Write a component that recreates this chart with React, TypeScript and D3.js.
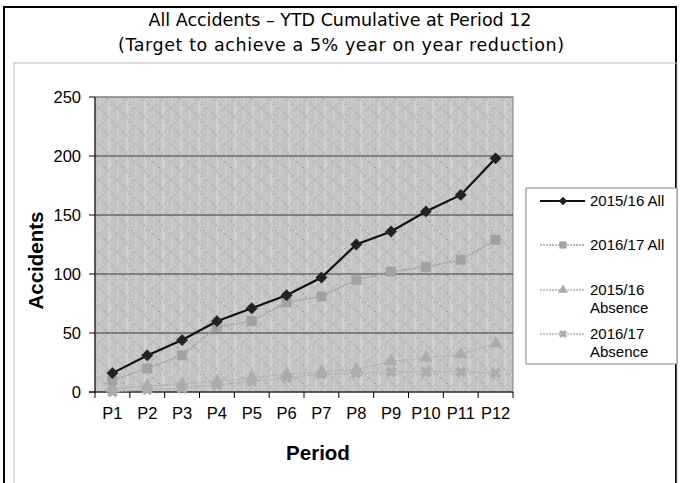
import { scaleBand, scaleLinear, line, symbol, symbolSquare, symbolTriangle, symbolCross } from "d3";

const width = 681;
const height = 483;

const periods = ["P1", "P2", "P3", "P4", "P5", "P6", "P7", "P8", "P9", "P10", "P11", "P12"];
const all1516 = [16, 31, 44, 60, 71, 82, 97, 125, 136, 153, 167, 198];
const all1617 = [10, 20, 31, 55, 60, 76, 81, 95, 102, 106, 112, 129];
const abs1516 = [3, 5, 7, 9, 12, 15, 17, 19, 26, 29, 32, 41];
const abs1617 = [0, 2, 3, 6, 9, 12, 15, 16, 17, 17, 17, 16];
const yTicks = [0, 50, 100, 150, 200, 250];

const series = [
  { name: ["2015/16 All"], values: all1516, color: "#111", width: 2.2, dash: "", sym: symbolSquare, size: 64, fill: "#222", rot: 45 },
  { name: ["2016/17 All"], values: all1617, color: "#a4a4a4", width: 1.6, dash: "2,1", sym: symbolSquare, size: 90, fill: "#a2a2a2", rot: 0 },
  { name: ["2015/16", "Absence"], values: abs1516, color: "#b0b0b0", width: 1.3, dash: "2,1", sym: symbolTriangle, size: 70, fill: "#acacac", rot: 0 },
  { name: ["2016/17", "Absence"], values: abs1617, color: "#b0b0b0", width: 1.3, dash: "2,1", sym: symbolCross, size: 70, fill: "#acacac", rot: 45 },
];

const plot = { left: 95, right: 513, top: 97, bottom: 392 };

const App = () => {
  const x = scaleBand().domain(periods).range([plot.left, plot.right]);
  const y = scaleLinear().domain([0, 250]).range([plot.bottom, plot.top]);
  const cx = (p: string) => (x(p) as number) + x.bandwidth() / 2;

  const legendX = 526;
  const legendRows = [201, 245, 290, 334];

  return (
    <svg width={width} height={height} style={{ position: "absolute", left: 0, top: 0, background: "#fff" }}>
      <defs>
        <pattern id="tex" width="18" height="18" patternUnits="userSpaceOnUse">
          <rect width="18" height="18" fill="#c4c4c4" />
          <rect x="0" y="0" width="3" height="18" fill="#d0d0d0" />
          <rect x="9" y="0" width="2" height="18" fill="#cccccc" />
          <path d="M0,9 L9,0 L18,9 L9,18 Z" fill="none" stroke="#b6b6b6" strokeWidth="1" />
          <rect x="5" y="4" width="1" height="1" fill="#e6e6e6" />
          <rect x="13" y="12" width="1" height="1" fill="#e6e6e6" />
          <rect x="7" y="15" width="1" height="1" fill="#e6e6e6" />
          <rect x="2" y="14" width="1" height="1" fill="#9a9a9a" />
          <rect x="15" y="5" width="1" height="1" fill="#9a9a9a" />
        </pattern>
      </defs>
      {/* outer chart border */}
      <rect x={4} y={7} width={672} height={height + 10} fill="#fff" stroke="#000" strokeWidth={2} />
      <rect x={14} y={63} width={663} height={height} fill="none" stroke="#bbb" strokeWidth={1} />

      <text x={340} y={26} textAnchor="middle" fontFamily="DejaVu Sans" fontSize={17.5} fill="#000" textLength={383} lengthAdjust="spacing">
        All Accidents – YTD Cumulative at Period 12
      </text>
      <text x={341} y={51} textAnchor="middle" fontFamily="DejaVu Sans" fontSize={17.5} fill="#000" textLength={446} lengthAdjust="spacing">
        (Target to achieve a 5% year on year reduction)
      </text>

      {/* plot background */}
      <rect x={plot.left} y={plot.top} width={plot.right - plot.left} height={plot.bottom - plot.top} fill="url(#tex)" stroke="#808080" strokeWidth={1} />
      {yTicks.slice(1).map((t) => (
        <line key={t} x1={plot.left} x2={plot.right} y1={y(t)} y2={y(t)} stroke={t === 250 ? "#808080" : "#3a3a3a"} strokeWidth={1} />
      ))}

      {/* y axis */}
      <line x1={plot.left} x2={plot.left} y1={plot.top} y2={plot.bottom} stroke="#000" />
      {yTicks.map((t) => (
        <g key={t}>
          <line x1={plot.left - 6} x2={plot.left} y1={y(t)} y2={y(t)} stroke="#000" />
          <text x={plot.left - 14} y={y(t)} dy="0.35em" textAnchor="end" fontFamily="Liberation Sans" fontSize={16.5}>
            {t}
          </text>
        </g>
      ))}
      {/* x axis */}
      <line x1={plot.left - 6} x2={plot.right} y1={plot.bottom} y2={plot.bottom} stroke="#000" />
      {periods.map((p) => (
        <g key={p}>
          <line x1={x(p) as number} x2={x(p) as number} y1={plot.bottom} y2={plot.bottom + 6} stroke="#000" />
          <text x={cx(p)} y={413} dy="0.35em" textAnchor="middle" fontFamily="Liberation Sans" fontSize={16.5}>
            {p}
          </text>
        </g>
      ))}
      <line x1={plot.right} x2={plot.right} y1={plot.bottom} y2={plot.bottom + 6} stroke="#000" />

      <text x={0} y={0} transform={`translate(43,${(plot.top + plot.bottom) / 2 + 16}) rotate(-90)`} textAnchor="middle" fontFamily="Liberation Sans" fontWeight="bold" fontSize={20.5}>
        Accidents
      </text>
      <text x={318} y={460} textAnchor="middle" fontFamily="Liberation Sans" fontWeight="bold" fontSize={20.5}>
        Period
      </text>

      {/* series */}
      {series
        .slice()
        .reverse()
        .map((s) => {
          const pts = periods.map((p, i) => [cx(p), y(s.values[i])] as [number, number]);
          return (
            <g key={s.name.join(" ")}>
              <path d={line()(pts) as string} fill="none" stroke={s.color} strokeWidth={s.width} strokeDasharray={s.dash} />
              {pts.map((pt, i) => (
                <path
                  key={i}
                  d={symbol(s.sym, s.size)() as string}
                  transform={`translate(${pt[0]},${pt[1]}) rotate(${s.rot})`}
                  fill={s.fill}
                  stroke={s.fill}
                  strokeWidth={0.5}
                />
              ))}
            </g>
          );
        })}

      {/* legend */}
      <rect x={legendX} y={188} width={151} height={176} fill="#fff" stroke="#808080" />
      {series.map((s, i) => {
        const ly = legendRows[i];
        return (
          <g key={s.name.join(" ")}>
            <line x1={540} x2={585} y1={ly} y2={ly} stroke={s.color} strokeWidth={s.width} strokeDasharray={s.dash} />
            <path d={symbol(s.sym, s.size * 0.5)() as string} transform={`translate(563,${ly}) rotate(${s.rot})`} fill={s.fill} stroke={s.fill} strokeWidth={0.5} />
            {s.name.map((n, j) => (
              <text key={n} x={590} y={ly + j * 18} dy="0.35em" fontFamily="Liberation Sans" fontSize={15}>
                {n}
              </text>
            ))}
          </g>
        );
      })}
    </svg>
  );
};

export default App;
